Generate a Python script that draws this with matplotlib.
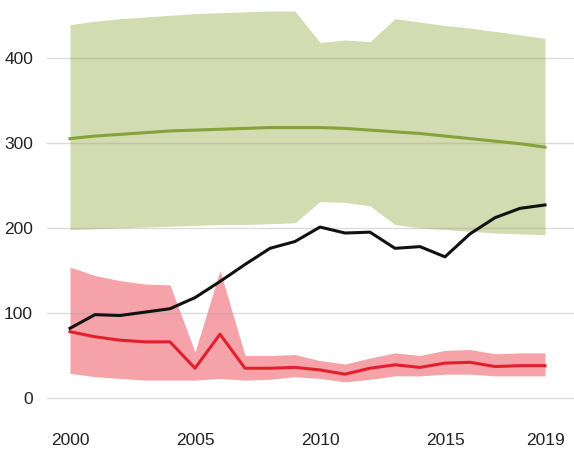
import matplotlib
matplotlib.use("Agg")
import matplotlib.pyplot as plt
import numpy as np

years = np.arange(2000, 2020)

# green series: central estimate with upper / lower bounds
green_mid = [305, 308, 310, 312, 314, 315, 316, 317, 318, 318,
             318, 317, 315, 313, 311, 308, 305, 302, 299, 295]
green_hi = [439, 443, 446, 448, 450, 452, 453, 454, 455, 455,
            418, 421, 419, 446, 442, 438, 435, 431, 427, 423]
green_lo = [198, 199, 200, 201, 202, 203, 204, 204, 205, 206,
            231, 230, 226, 204, 200, 198, 196, 194, 193, 192]

# black series
black = [82, 98, 97, 101, 105, 118, 137, 157, 176, 184,
         201, 194, 195, 176, 178, 166, 193, 212, 223, 227]

# red series: central estimate with upper / lower bounds
red_mid = [78, 72, 68, 66, 66, 35, 75, 35, 35, 36,
           33, 28, 35, 39, 36, 41, 42, 37, 38, 38]
red_hi = [154, 144, 138, 134, 133, 54, 150, 50, 50, 51,
          44, 40, 47, 53, 50, 56, 57, 52, 53, 53]
red_lo = [29, 25, 23, 21, 21, 21, 23, 21, 22, 25,
          23, 19, 22, 26, 26, 28, 28, 26, 26, 26]

xticks = [2000, 2005, 2010, 2015, 2019]
yticks = [0, 100, 200, 300, 400]

plt.rcParams['font.family'] = ['Liberation Sans Narrow', 'Liberation Sans', 'DejaVu Sans']

fig = plt.figure(figsize=(5.74, 4.51), dpi=100)
ax = fig.add_axes([47 / 574, 1 - 419 / 451, 1 - 47 / 574, 419 / 451])

ax.fill_between(years, green_lo, green_hi, color='#d3dbb0', lw=0, zorder=1)
ax.plot(years, green_mid, color='#86a23a', lw=2.2, zorder=3)
ax.fill_between(years, red_lo, red_hi, color='#f5a3a8', lw=0, zorder=1)
ax.plot(years, red_mid, color='#e0202a', lw=2.2, zorder=3)
ax.plot(years, black, color='#111111', lw=2.2, zorder=4)

ax.set_xlim(1999.08, 2020.16)
ax.set_ylim(-24.7, 468)
ax.set_xticks(xticks)
ax.set_yticks(yticks)
# grid sits over the shaded bands, under the lines
ax.set_axisbelow(False)
ax.grid(axis='y', color='#9a9a9a', alpha=0.35, lw=1)
for s in ax.spines.values():
    s.set_visible(False)
ax.tick_params(length=0, labelsize=12.5, labelcolor='#222222')
ax.tick_params(axis='y', pad=10)
ax.tick_params(axis='x', pad=10)

fig.savefig('out.png', dpi=100)
